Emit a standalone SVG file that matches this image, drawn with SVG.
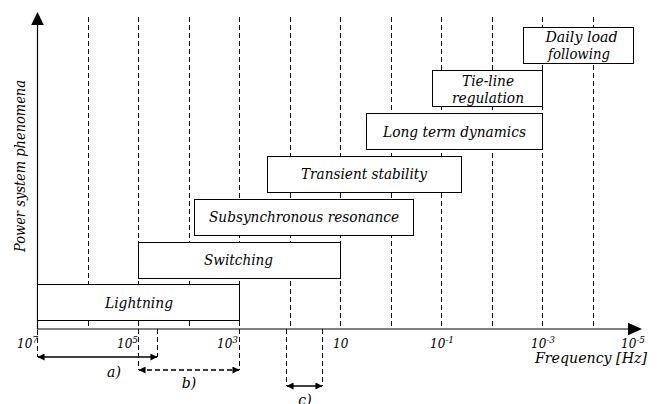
<svg xmlns="http://www.w3.org/2000/svg" width="658" height="404" viewBox="0 0 658 404">
<defs>
<style>
text{font-family:"DejaVu Serif","Liberation Serif",serif;font-style:italic;fill:#000}
.lbl{font-size:14px;text-anchor:middle}
.tick{font-size:12px}
.sup{font-size:9px}
.box{fill:#fff;stroke:#000;stroke-width:1}
.grid{stroke:#000;stroke-width:1;stroke-dasharray:5 3;fill:none}
.axis{stroke:#000;stroke-width:1.2;fill:none}
.dim{stroke:#000;stroke-width:1.5;fill:none}
</style>
<marker id="ah" viewBox="0 0 8 8" refX="7.5" refY="4" markerWidth="7" markerHeight="7" markerUnits="userSpaceOnUse" orient="auto-start-reverse">
<path d="M0,0 L8,4 L0,8 Z" fill="#000"/>
</marker>
</defs>
<rect width="658" height="404" fill="#fff"/>
<g id="grid">
<path class="grid" d="M88.5,17V329M138.5,17V370M189.5,17V329M239.5,17V370M290.5,17V329M340.5,17V329M391.5,17V329M441.5,17V329M492.5,17V329M542.5,17V329M593.5,17V329"/>
</g>
<g id="axes">
<path class="axis" d="M37.5,329V24"/>
<path d="M37.5,12 L43.8,25 L31.2,25 Z" fill="#000"/>
<path class="axis" d="M37,329H630"/>
<path d="M642,329 L628,322.8 L628,335.2 Z" fill="#000"/>
</g>
<g id="lightning"><rect class="box" x="37.5" y="284.5" width="202" height="36"/><text class="lbl" x="139" y="308" textLength="68" lengthAdjust="spacingAndGlyphs">Lightning</text></g>
<g id="switching"><rect class="box" x="138.5" y="242.5" width="202" height="36"/><text class="lbl" x="238.5" y="265" textLength="69" lengthAdjust="spacingAndGlyphs">Switching</text></g>
<g id="subsync"><rect class="box" x="194.5" y="199.5" width="219" height="36"/><text class="lbl" x="304" y="222" textLength="190" lengthAdjust="spacingAndGlyphs">Subsynchronous resonance</text></g>
<g id="transient"><rect class="box" x="267.5" y="156.5" width="194" height="36"/><text class="lbl" x="364" y="179" textLength="126" lengthAdjust="spacingAndGlyphs">Transient stability</text></g>
<g id="longterm"><rect class="box" x="366.5" y="113.5" width="176" height="36"/><text class="lbl" x="454.5" y="137" textLength="143" lengthAdjust="spacingAndGlyphs">Long term dynamics</text></g>
<g id="tieline"><rect class="box" x="432.5" y="70.5" width="110" height="36"/><text class="lbl" x="488" y="86" textLength="52" lengthAdjust="spacingAndGlyphs">Tie-line</text><text class="lbl" x="488" y="103" textLength="72" lengthAdjust="spacingAndGlyphs">regulation</text></g>
<g id="daily"><rect class="box" x="523.5" y="27.5" width="110" height="36"/><text class="lbl" x="581.5" y="41.5" textLength="72" lengthAdjust="spacingAndGlyphs">Daily load</text><text class="lbl" x="579" y="59" textLength="62" lengthAdjust="spacingAndGlyphs">following</text></g>
<g id="ticks">
<text class="tick" x="17" y="348">10<tspan class="sup" dy="-5">7</tspan></text>
<text class="tick" x="117" y="348">10<tspan class="sup" dy="-5">5</tspan></text>
<text class="tick" x="217" y="348">10<tspan class="sup" dy="-5">3</tspan></text>
<text class="tick" x="333" y="348">10</text>
<text class="tick" x="430" y="348">10<tspan class="sup" dy="-5">-1</tspan></text>
<text class="tick" x="531" y="348">10<tspan class="sup" dy="-5">-3</tspan></text>
<text class="tick" x="621" y="348">10<tspan class="sup" dy="-5">-5</tspan></text>
</g>
<g id="axis-labels">
<text class="lbl" x="647" y="363" style="text-anchor:end" textLength="112" lengthAdjust="spacingAndGlyphs">Frequency [Hz]</text>
<text class="lbl" transform="translate(25,166) rotate(-90)" x="0" y="0" textLength="172" lengthAdjust="spacingAndGlyphs">Power system phenomena</text>
</g>
<g id="connectors">
<path class="grid" d="M37.5,330V357M157.5,329V357"/>
<path class="dim" d="M38,357H157" marker-start="url(#ah)" marker-end="url(#ah)"/>
<path class="dim" d="M139,370H239" stroke-dasharray="5 3" marker-start="url(#ah)" marker-end="url(#ah)"/>
<path class="grid" d="M286.5,329V386M322.5,329V386"/>
<path class="dim" d="M287,386H322" marker-start="url(#ah)" marker-end="url(#ah)"/>
</g>
<g id="dim-labels">
<text class="lbl" x="114" y="377">a)</text>
<text class="lbl" x="189" y="388">b)</text>
<text class="lbl" x="305" y="405">c)</text>
</g>
</svg>
